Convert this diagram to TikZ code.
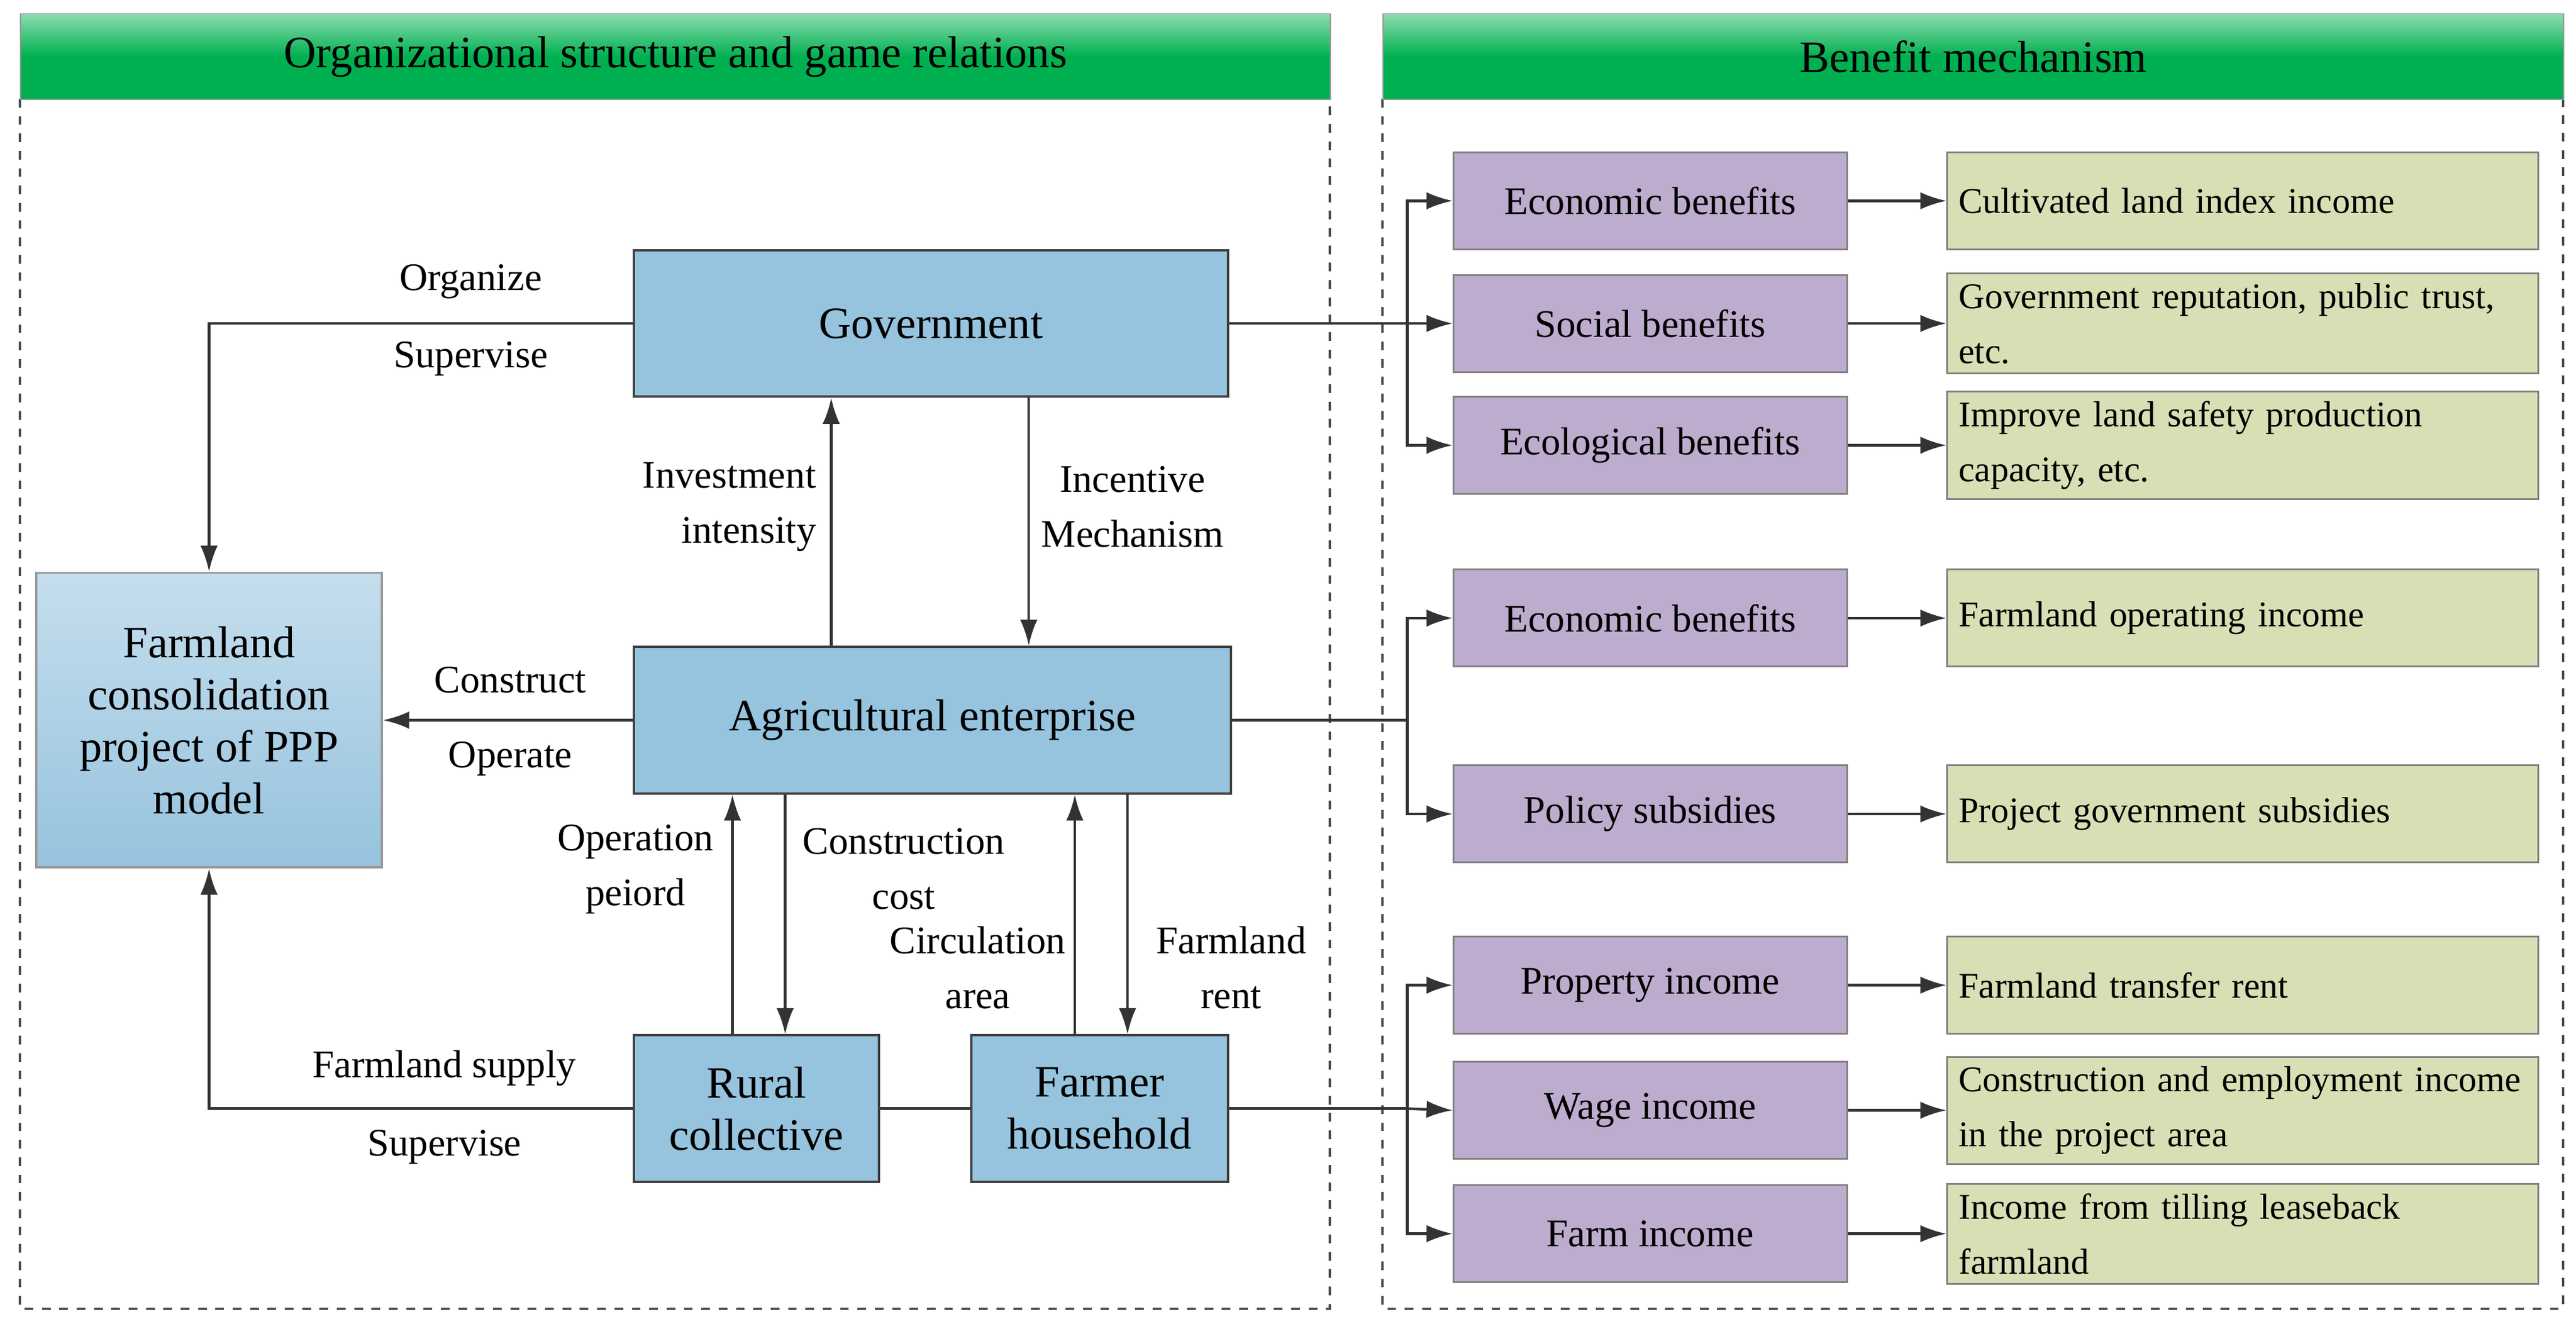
\documentclass[tikz,border=0pt]{standalone}
\usepackage{fontspec}
\setmainfont{Liberation Serif}
\usetikzlibrary{arrows.meta}
\definecolor{bl}{RGB}{150,195,222}
\definecolor{pu}{RGB}{190,172,206}
\definecolor{gr}{RGB}{214,224,180}
\definecolor{hg}{RGB}{0,176,80}
\begin{document}
\begin{tikzpicture}[x=0.02cm,y=-0.02cm,
 bx/.style={draw=black!75,line width=0.8pt,fill=bl,font=\fontsize{15.5}{18}\selectfont,align=center},
 pb/.style={draw=black!50,line width=0.6pt,fill=pu,font=\fontsize{13.5}{16}\selectfont,align=center},
 gb/.style={draw=black!50,line width=0.6pt,fill=gr,font=\fontsize{12.5}{19}\selectfont,align=left,text width=340\pgflinewidth},
 lab/.style={font=\fontsize{13.5}{19}\selectfont,align=center},
 ar/.style={draw=black!80,line width=0.9pt,-{Latex[length=9pt,width=6pt]}},
 ln/.style={draw=black!80,line width=0.9pt},
 hd/.style={draw=black!40,top color=hg!45,bottom color=hg,middle color=hg,font=\fontsize{15.5}{18}\selectfont},
 dbox/.style={draw=black!70,dashed,line width=0.8pt}]
\useasboundingbox (0,0) rectangle (1565,804);
% headers and frames
\draw[dbox] (12,60) rectangle (808,795);
\draw[dbox] (840,60) rectangle (1557,795);
\node[hd,minimum width=796*0.02cm,minimum height=52*0.02cm,anchor=north west] (h1) at (12,8) {Organizational structure and game relations};
\node[hd,minimum width=717*0.02cm,minimum height=52*0.02cm,anchor=north west] (h2) at (840,8) {Benefit mechanism};
% left nodes
\node[bx,minimum width=361*0.02cm,minimum height=89*0.02cm] (gov) at (565.5,196.5) {Government};
\node[bx,minimum width=363*0.02cm,minimum height=89*0.02cm] (agr) at (566.5,437.5) {Agricultural enterprise};
\node[bx,draw=black!40,top color=bl!55,bottom color=bl,minimum width=210*0.02cm,minimum height=179*0.02cm] (ppp) at (127,437.5) {Farmland\\consolidation\\project of PPP\\model};
\node[bx,minimum width=149*0.02cm,minimum height=89*0.02cm] (rur) at (459.5,673.5) {Rural\\collective};
\node[bx,minimum width=156*0.02cm,minimum height=89*0.02cm] (far) at (668,673.5) {Farmer\\household};
% left connectors
\draw[ar] (gov.west) -| (ppp.north);
\node[lab] at (286,171) {Organize};
\node[lab] at (286,218) {Supervise};
\draw[ar] (rur.west) -| (ppp.south);
\node[lab] at (270,649) {Farmland supply};
\node[lab] at (270,697) {Supervise};
\draw[ar] (agr.west) -- (ppp.east);
\node[lab] at (310,413) {Construct};
\node[lab] at (310,461) {Operate};
\draw[ar] (agr.north -| 505,0) -- (gov.south -| 505,0);
\node[lab,align=right,anchor=east] at (502,308) {Investment\\intensity};
\draw[ar] (gov.south -| 625,0) -- (agr.north -| 625,0);
\node[lab] at (688,308) {Incentive\\Mechanism};
\draw[ar] (rur.north -| 445,0) -- (agr.south -| 445,0);
\draw[ar] (agr.south -| 477,0) -- (rur.north -| 477,0);
\node[lab] at (386,528) {Operation\\peiord};
\node[lab] at (549,528) {Construction\\cost};
\draw[ar] (far.north -| 653,0) -- (agr.south -| 653,0);
\draw[ar] (agr.south -| 685,0) -- (far.north -| 685,0);
\node[lab] at (594,588) {Circulation\\area};
\node[lab] at (748,588) {Farmland\\rent};
\draw[ln] (rur.east) -- (far.west);
% right nodes
\foreach \n/\y/\p/\g in {
 p1/122/Economic benefits/Cultivated land index income,
 p2/196.5/Social benefits/{Government reputation, public trust,\\etc.},
 p3/270.5/Ecological benefits/{Improve land safety production\\capacity, etc.},
 p4/375.5/Economic benefits/Farmland operating income,
 p5/494.5/Policy subsidies/Project government subsidies,
 p6/598.5/Property income/Farmland transfer rent,
 p7/674.5/Wage income/{Construction and employment income\\in the project area},
 p8/749.5/Farm income/{Income from tilling leaseback\\farmland}}{
 \node[pb,minimum width=239*0.02cm,minimum height=59*0.02cm] (\n) at (1002.5,\y) {\p};
 \node[gb,minimum width=359*0.02cm,minimum height=59*0.02cm,text width=345*0.02cm] (g\n) at (1362.5,\y) {\g};
 \draw[ar] (\n.east) -- (g\n.west);
}
\coordinate (b1) at (855,196.5);
\coordinate (b2) at (855,437.5);
\coordinate (b3) at (855,673.5);
\draw[ln] (gov.east) -- (b1);
\draw[ln] (agr.east) -- (b2);
\draw[ln] (far.east) -- (b3);
\draw[ar] (b1) |- (p1.west);
\draw[ar] (b1) -- (p2.west);
\draw[ar] (b1) |- (p3.west);
\draw[ar] (b2) |- (p4.west);
\draw[ar] (b2) |- (p5.west);
\draw[ar] (b3) |- (p6.west);
\draw[ar] (b3) -- (p7.west);
\draw[ar] (b3) |- (p8.west);
\end{tikzpicture}
\end{document}
